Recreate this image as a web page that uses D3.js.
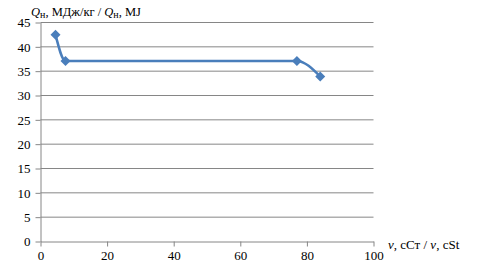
<!DOCTYPE html>
<html lang="ru">
<head>
<meta charset="utf-8">
<style>
	body { margin: 0; background: #fff; }
	svg { font-family: "Liberation Serif", "Times New Roman", serif; }
	.grid line { stroke: #868686; stroke-width: 1px; }
	.axis path, .axis line { stroke: #868686; }
	.axis text { font-size: 13px; fill: #000; font-family: "Liberation Serif", serif; }
</style>
<script src="https://d3js.org/d3.v7.min.js"></script>
</head>
<body>
<script>
var width = 478, height = 265;

// data
var viscosity = [4.5, 7.5, 77, 84];
var heatValue = [42.5, 37.1, 37.1, 33.9];
var xTicks = [0, 20, 40, 60, 80, 100];
var yTicks = [0, 5, 10, 15, 20, 25, 30, 35, 40, 45];

var points = viscosity.map(function(v, i) { return [v, heatValue[i]]; });

var svg = d3.select("body").append("svg")
	.attr("width", width)
	.attr("height", height);

var x = d3.scaleLinear().domain([0, 100]).range([40.5, 373.5]);
var y = d3.scaleLinear().domain([0, 45]).range([241.5, 22.5]);

// horizontal gridlines
svg.append("g").attr("class", "grid")
	.selectAll("line")
	.data(yTicks.slice(1))
	.enter().append("line")
	.attr("x1", x(0)).attr("x2", x(100))
	.attr("y1", function(d) { return y(d); })
	.attr("y2", function(d) { return y(d); });

var xAxis = svg.append("g").attr("class", "axis")
	.attr("transform", "translate(0," + y(0) + ")")
	.call(d3.axisBottom(x).tickValues(xTicks).tickSize(5).tickSizeOuter(0));
xAxis.selectAll("text").attr("dy", "0.8em");

var yAxis = svg.append("g").attr("class", "axis")
	.attr("transform", "translate(" + x(0) + ",0)")
	.call(d3.axisLeft(y).tickValues(yTicks).tickSize(5).tickSizeOuter(0));
yAxis.selectAll("text").attr("x", -10);

// smoothed line
var line = d3.line()
	.x(function(d) { return x(d[0]); })
	.y(function(d) { return y(d[1]); })
	.curve(d3.curveMonotoneX);

svg.append("path")
	.datum(points)
	.attr("fill", "none")
	.attr("stroke", "#4a7ebb")
	.attr("stroke-width", 2.5)
	.attr("d", line);

svg.selectAll(".marker")
	.data(points)
	.enter().append("path")
	.attr("class", "marker")
	.attr("transform", function(d) { return "translate(" + x(d[0]) + "," + y(d[1]) + ")"; })
	.attr("d", "M0,-5L5,0L0,5L-5,0Z")
	.attr("fill", "#4a7ebb");

// axis titles
var yt = svg.append("text").attr("x", 31).attr("y", 16).attr("font-size", 12.5);
yt.append("tspan").attr("font-style", "italic").text("Q");
yt.append("tspan").attr("font-size", 10).attr("dy", 2).text("н");
yt.append("tspan").attr("dy", -2).text(", МДж/кг / ");
yt.append("tspan").attr("font-style", "italic").text("Q");
yt.append("tspan").attr("font-size", 10).attr("dy", 2).text("н");
yt.append("tspan").attr("dy", -2).text(", MJ");

var xt = svg.append("text").attr("x", 388).attr("y", 249).attr("font-size", 13);
xt.append("tspan").attr("font-style", "italic").text("ν");
xt.append("tspan").text(", сСт / ");
xt.append("tspan").attr("font-style", "italic").text("ν");
xt.append("tspan").text(", cSt");
</script>
</body>
</html>
